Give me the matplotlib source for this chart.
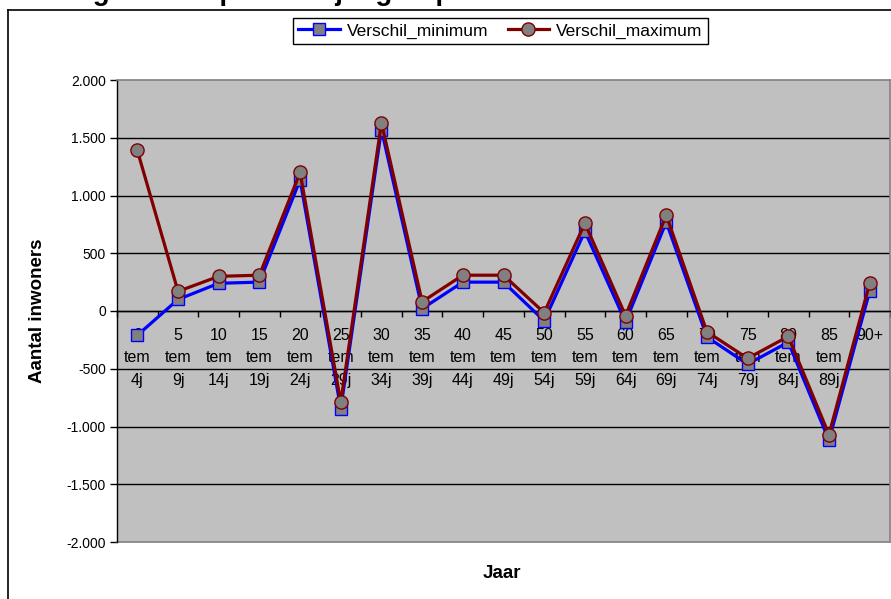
import matplotlib
matplotlib.use("Agg")
import matplotlib.pyplot as plt
from matplotlib.ticker import FuncFormatter, FixedLocator
from matplotlib.lines import Line2D

plt.rcParams['font.family'] = ['Liberation Sans', 'DejaVu Sans']

# ---- data ----
categories = ["0\ntem\n4j", "5\ntem\n9j", "10\ntem\n14j", "15\ntem\n19j", "20\ntem\n24j",
              "25\ntem\n29j", "30\ntem\n34j", "35\ntem\n39j", "40\ntem\n44j", "45\ntem\n49j",
              "50\ntem\n54j", "55\ntem\n59j", "60\ntem\n64j", "65\ntem\n69j", "70\ntem\n74j",
              "75\ntem\n79j", "80\ntem\n84j", "85\ntem\n89j", "90+"]
verschil_minimum = [-210, 100, 240, 250, 1135, -845, 1570, 20, 250, 250, -85, 690, -95, 770,
                    -225, -460, -270, -1120, 170]
verschil_maximum = [1390, 170, 300, 310, 1200, -790, 1630, 80, 310, 310, -15, 760, -40, 830,
                    -180, -410, -220, -1070, 240]
yticks = [-2000, -1500, -1000, -500, 0, 500, 1000, 1500, 2000]
series_names = ["Verschil_minimum", "Verschil_maximum"]
title_text = "Verschil in bevolking in 2030 per leeftijdsgroep"
ylabel_text = "Aantal inwoners"
xlabel_text = "Jaar"

W, H = 891, 599
fig = plt.figure(figsize=(W / 100, H / 100), dpi=100)

def fx(px):
    return px / W

def fy(py):
    return 1 - py / H

# outer chart frame (cut off at right and bottom)
fig.add_artist(Line2D([fx(8), fx(8)], [fy(10), 0], color='black', lw=1.2))
fig.add_artist(Line2D([fx(8), 1], [fy(10), fy(10)], color='black', lw=1.2))

L, R, T, B = 117, 890, 80, 542
ax = fig.add_axes([fx(L), fy(B), fx(R - L), (B - T) / H])
ax.set_facecolor('#C0C0C0')

x = list(range(len(categories)))
ax.set_xlim(-0.5, len(categories) - 0.5)
ax.set_ylim(-2000, 2000)

# gridlines
for v in yticks:
    if v not in (-2000, 2000):
        ax.axhline(v, color='black', lw=1.0, zorder=1)

# spines
for s in ['top', 'right']:
    ax.spines[s].set_color('#808080')
    ax.spines[s].set_linewidth(1.2)
ax.spines['left'].set_color('black')
ax.spines['left'].set_linewidth(1.0)
ax.spines['bottom'].set_position(('data', 0))
ax.spines['bottom'].set_color('black')
ax.spines['bottom'].set_linewidth(1.0)
# bottom border of plot area
ax.add_artist(Line2D([0, 1], [0, 0], transform=ax.transAxes, color='#808080', lw=1.2, clip_on=False))

# y ticks
ax.set_yticks(yticks)
ax.yaxis.set_major_formatter(FuncFormatter(lambda v, p: f"{int(v):,}".replace(",", ".")))
ax.tick_params(axis='y', direction='out', length=5, width=1, labelsize=10, pad=3, colors='black')

# x ticks at category boundaries
ax.xaxis.set_major_locator(FixedLocator([i - 0.5 for i in range(len(categories) + 1)]))
ax.tick_params(axis='x', direction='out', length=4, width=1, labelbottom=False)

# category labels
for i, lab in enumerate(categories):
    for j, line in enumerate(lab.split("\n")):
        ax.annotate(line, xy=(i, 0), xytext=(0, -24 - 22.5 * j), textcoords='offset pixels',
                    ha='center', va='center', fontsize=11.5, zorder=2)

# series
ax.plot(x, verschil_minimum, color='#0000FF', lw=2.3, marker='s', markersize=8,
        markerfacecolor='#808080', markeredgecolor='#0000FF', markeredgewidth=1.0,
        zorder=3, label=series_names[0])
ax.plot(x, verschil_maximum, color='#800000', lw=2.3, marker='o', markersize=9.5,
        markerfacecolor='#808080', markeredgecolor='#800000', markeredgewidth=1.0,
        zorder=4, label=series_names[1])

# axis titles
fig.text(fx(38), fy(311), ylabel_text, rotation=90, ha='center', va='center',
         fontsize=13.5, fontweight='bold')
fig.text(fx(502), fy(573), xlabel_text, ha='center', va='center', fontsize=13.5, fontweight='bold')

# legend
leg = fig.legend(loc='center', bbox_to_anchor=(fx(500.5), fy(31)), ncol=2, fontsize=12.5,
                 frameon=True, fancybox=False, edgecolor='black', framealpha=1,
                 handlelength=2.4, handletextpad=0.4, columnspacing=1.1, borderpad=0.3)
leg.get_frame().set_linewidth(1.0)

# title (mostly cut off above the image, as in the reference)
t = fig.text(0, fy(0.5), title_text, fontsize=20, fontweight='bold', ha='left', va='baseline')
fig.canvas.draw()
renderer = fig.canvas.get_renderer()
prefix = title_text[:title_text.index("leeftij") + len("leeftij") - 1]
wpx, _, _ = renderer.get_text_width_height_descent(prefix, t.get_fontproperties(), ismath=False)
t.set_x(fx(337 - wpx - 2))

fig.savefig("out.png", dpi=100)
